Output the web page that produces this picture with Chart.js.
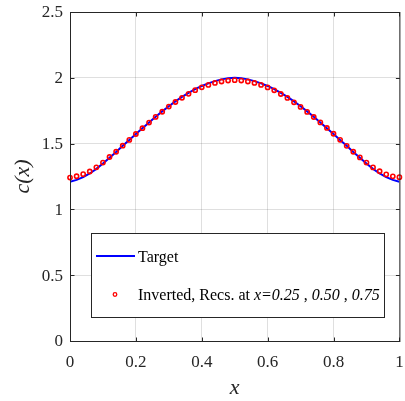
<!DOCTYPE html>
<html>
<head>
<meta charset="utf-8">
<script src="https://cdn.jsdelivr.net/npm/chart.js@4.4.0/dist/chart.umd.min.js"></script>
<style>
  html, body { margin: 0; padding: 0; background: #fff; }
  canvas { display: block; }
</style>
</head>
<body>
<canvas id="profileChart" width="405" height="401"></canvas>
<script>
// sample positions along x
const xs = [0.00, 0.02, 0.04, 0.06, 0.08, 0.10, 0.12, 0.14, 0.16, 0.18,
            0.20, 0.22, 0.24, 0.26, 0.28, 0.30, 0.32, 0.34, 0.36, 0.38,
            0.40, 0.42, 0.44, 0.46, 0.48, 0.50, 0.52, 0.54, 0.56, 0.58,
            0.60, 0.62, 0.64, 0.66, 0.68, 0.70, 0.72, 0.74, 0.76, 0.78,
            0.80, 0.82, 0.84, 0.86, 0.88, 0.90, 0.92, 0.94, 0.96, 0.98, 1.00];

// target profile c(x)
const target = [1.210, 1.224, 1.245, 1.273, 1.308, 1.348, 1.392, 1.437, 1.483, 1.528,
                1.573, 1.617, 1.661, 1.704, 1.745, 1.784, 1.821, 1.855, 1.886, 1.914,
                1.938, 1.958, 1.975, 1.988, 1.997, 2.000, 1.997, 1.988, 1.975, 1.958,
                1.938, 1.914, 1.886, 1.855, 1.821, 1.784, 1.745, 1.704, 1.661, 1.617,
                1.573, 1.528, 1.483, 1.437, 1.392, 1.348, 1.308, 1.273, 1.245, 1.224, 1.210];

// inverted profile from the three receivers
const inverted = [1.242, 1.252, 1.268, 1.288, 1.320, 1.356, 1.398, 1.438, 1.484, 1.528,
                  1.573, 1.617, 1.660, 1.703, 1.742, 1.781, 1.816, 1.848, 1.878, 1.906,
                  1.928, 1.946, 1.961, 1.972, 1.979, 1.982, 1.979, 1.972, 1.961, 1.946,
                  1.927, 1.905, 1.877, 1.847, 1.814, 1.779, 1.741, 1.702, 1.661, 1.619,
                  1.575, 1.529, 1.483, 1.438, 1.395, 1.356, 1.319, 1.290, 1.266, 1.251, 1.245];

const xTicks = [0, 0.2, 0.4, 0.6, 0.8, 1];
const xTickLabels = ['0', '0.2', '0.4', '0.6', '0.8', '1'];
const yTicks = [0, 0.5, 1, 1.5, 2, 2.5];
const yTickLabels = ['0', '0.5', '1', '1.5', '2', '2.5'];

// legend text, [text, italic]
const targetLabel = 'Target';
const invertedParts = [
  ['Inverted, Recs. at ', false],
  ['x=0.25', true],
  [' , ', false],
  ['0.50', true],
  [' , ', false],
  ['0.75', true]
];

const serif = "'Liberation Serif', 'Times New Roman', serif";
const axisColor = '#262626';
const gridColor = 'rgba(38,38,38,0.15)';

// keep the plot box fixed: no extra room for overhanging tick labels
function fixScale(size) {
  return s => {
    if (s.isHorizontal()) s.height = size; else s.width = size;
    s.paddingLeft = s.paddingRight = s.paddingTop = s.paddingBottom = 0;
  };
}

// closed box with inward tick marks, matlab style
const axesBox = {
  id: 'axesBox',
  afterDatasetsDraw(chart) {
    const { ctx, chartArea: a, scales } = chart;
    const L = a.left + 0.5, R = a.right + 0.5, T = a.top + 0.5, B = a.bottom + 0.5;
    const len = 4;
    ctx.save();
    ctx.strokeStyle = axisColor;
    ctx.lineWidth = 1;
    ctx.strokeRect(L, T, R - L, B - T);
    ctx.beginPath();
    xTicks.forEach(v => {
      const px = Math.round(scales.x.getPixelForValue(v)) + 0.5;
      ctx.moveTo(px, B); ctx.lineTo(px, B - len);
      ctx.moveTo(px, T); ctx.lineTo(px, T + len);
    });
    yTicks.forEach(v => {
      const py = Math.round(scales.y.getPixelForValue(v)) + 0.5;
      ctx.moveTo(L, py); ctx.lineTo(L + len, py);
      ctx.moveTo(R, py); ctx.lineTo(R - len, py);
    });
    ctx.stroke();
    ctx.restore();
  }
};

// legend box drawn over the grid
const boxLegend = {
  id: 'boxLegend',
  afterDraw(chart) {
    const { ctx } = chart;
    const ds = chart.data.datasets;
    const bx = 91.5, by = 233.5, bw = 293, bh = 84;
    ctx.save();
    ctx.fillStyle = '#fff';
    ctx.fillRect(bx, by, bw, bh);
    ctx.strokeStyle = axisColor;
    ctx.lineWidth = 1;
    ctx.strokeRect(bx, by, bw, bh);

    // target entry
    ctx.strokeStyle = ds[1].borderColor;
    ctx.lineWidth = 2;
    ctx.beginPath();
    ctx.moveTo(96, 256);
    ctx.lineTo(135, 256);
    ctx.stroke();

    ctx.fillStyle = '#000';
    ctx.textBaseline = 'alphabetic';
    ctx.font = '16px ' + serif;
    ctx.fillText(targetLabel, 138, 261.5);

    // inverted entry
    ctx.strokeStyle = ds[0].pointBorderColor;
    ctx.lineWidth = 1.3;
    ctx.beginPath();
    ctx.arc(115, 294.5, 1.8, 0, Math.PI * 2);
    ctx.stroke();

    let tx = 138;
    invertedParts.forEach(([txt, it]) => {
      ctx.font = (it ? 'italic ' : '') + '16px ' + serif;
      ctx.fillText(txt, tx, 300);
      tx += ctx.measureText(txt).width;
    });
    ctx.restore();
  }
};

const ctx = document.getElementById('profileChart').getContext('2d');
const profileChart = new Chart(ctx, {
  type: 'line',
  data: {
    datasets: [
      {
        label: invertedParts.map(p => p[0]).join(''),
        data: xs.map((x, i) => ({ x: x, y: inverted[i] })),
        showLine: false,
        pointStyle: 'circle',
        pointRadius: 2.1,
        pointBorderWidth: 1.6,
        pointBorderColor: '#ff0000',
        pointBackgroundColor: 'rgba(0,0,0,0)',
        clip: false,
        order: 0
      },
      {
        label: targetLabel,
        data: xs.map((x, i) => ({ x: x, y: target[i] })),
        borderColor: '#0000ff',
        borderWidth: 2,
        pointRadius: 0,
        tension: 0,
        fill: false,
        order: 1
      }
    ]
  },
  options: {
    responsive: false,
    animation: false,
    layout: { padding: { left: 0, top: 12, right: 5, bottom: 0 } },
    plugins: {
      legend: { display: false },
      tooltip: { enabled: false }
    },
    scales: {
      x: {
        type: 'linear',
        min: 0,
        max: 1,
        afterBuildTicks: s => { s.ticks = xTicks.map(v => ({ value: v })); },
        afterFit: fixScale(60),
        grid: { color: gridColor, drawTicks: false },
        border: { display: false },
        ticks: {
          color: axisColor,
          font: { family: serif, size: 17 },
          padding: 11,
          maxRotation: 0,
          callback: (v, i) => xTickLabels[i]
        },
        title: {
          display: true,
          text: 'x',
          color: axisColor,
          font: { family: serif, size: 22, style: 'italic' },
          padding: 0
        }
      },
      y: {
        type: 'linear',
        min: 0,
        max: 2.5,
        afterBuildTicks: s => { s.ticks = yTicks.map(v => ({ value: v })); },
        afterFit: fixScale(70),
        grid: { color: gridColor, drawTicks: false },
        border: { display: false },
        ticks: {
          color: axisColor,
          font: { family: serif, size: 17 },
          padding: 7,
          labelOffset: 1,
          callback: (v, i) => yTickLabels[i]
        },
        title: {
          display: true,
          text: 'c(x)',
          color: axisColor,
          font: { family: serif, size: 22, style: 'italic' },
          padding: { top: 10, bottom: 0 }
        }
      }
    }
  },
  plugins: [axesBox, boxLegend]
});
</script>
</body>
</html>
